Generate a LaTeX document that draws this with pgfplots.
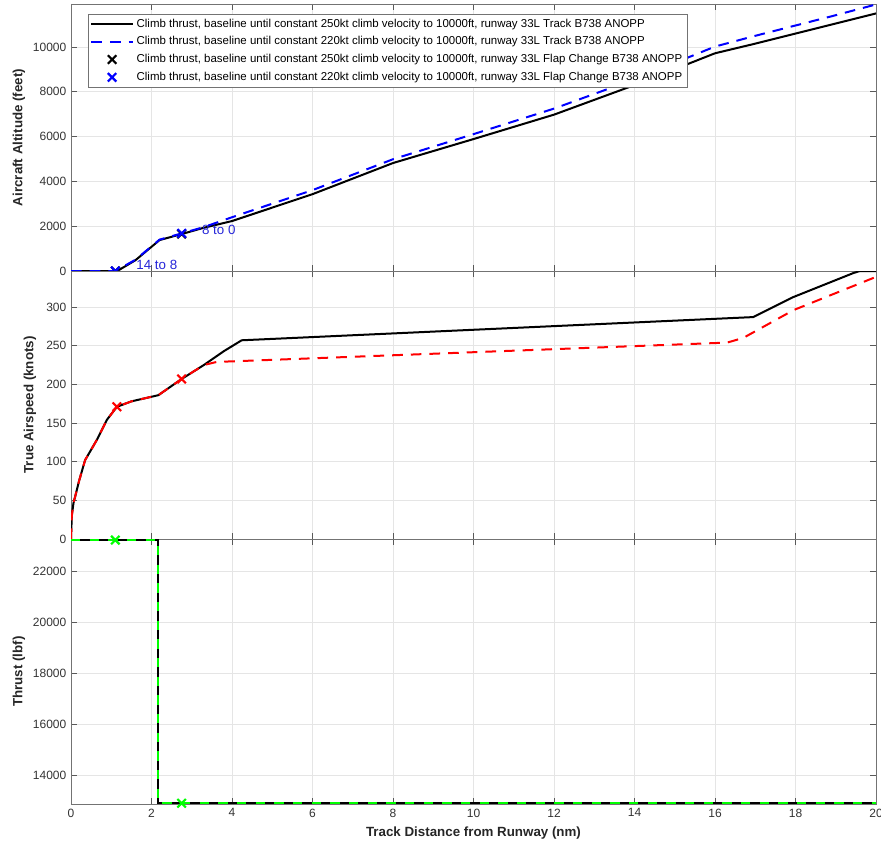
\documentclass[border=0pt]{standalone}
\usepackage{fontspec}
\setmainfont{Liberation Sans}
\usepackage{pgfplots}
\pgfplotsset{compat=1.18}
\definecolor{gridgray}{gray}{0.9}
\definecolor{txtblue}{rgb}{0.15,0.15,0.85}

\pgfplotsset{
  panel/.style={
    scale only axis, width=603.75pt,
    xmin=0, xmax=20, xtick={0,2,...,20},
    xtick pos=both, ytick pos=both,
    tick align=inside, major tick length=4.5pt,
    grid=major, grid style={gridgray, line width=0.5pt},
    axis line style={black!55, line width=0.7pt},
    tick style={black!65, line width=0.6pt},
    ticklabel style={font=\fontsize{9}{10}\selectfont, text=black!80},
    label style={font=\bfseries\fontsize{10}{12}\selectfont, text=black!85},
    /pgf/number format/assume math mode=true,
    /pgf/number format/1000 sep={},
    scaled ticks=false,
    axis background/.style={fill=white},
    every axis plot/.append style={line width=1.5pt},
    legend image code/.code={\draw[mark repeat=2,mark phase=2,#1]
      plot coordinates {(0cm,0cm) (0.55cm,0cm) (1.1cm,0cm)};},
  },
  xmk/.style={only marks, mark=x, mark size=4.5pt, mark options={line width=1.6pt}},
}

\begin{document}
\begin{tikzpicture}
\useasboundingbox (-53.25pt,-636.75pt) rectangle (607.5pt,3pt);

% altitude
\begin{axis}[panel, name=top, at={(0,0)}, anchor=north west,
    height=200.25pt, ymin=0, ymax=11920, ytick={0,2000,...,10000},
    xticklabels={},
    ylabel={Aircraft Altitude (feet)},
    ylabel style={at={(axis description cs:-0.0646,0.5)}, anchor=center},
    legend cell align=left,
    legend style={at={(axis description cs:0.021,0.963)}, anchor=north west,
      font=\fontsize{8.6}{10}\selectfont, draw=black!55, line width=0.5pt,
      fill=white, inner sep=1.5pt, row sep=1.6pt},
]
\addplot[black] coordinates {
  (0,0)(1.15,0)(1.6,480)(2.2,1380)(2.75,1650)(3.3,1930)(4,2230)(6,3430)
  (8,4820)(10,5890)(12,6980)(14,8300)(16,9720)(17,10150)(18,10600)
  (19,11050)(20,11500)
};
\addplot[blue, dash pattern=on 8pt off 6pt] coordinates {
  (0,0)(1.1,0)(1.6,500)(2.2,1400)(2.75,1680)(3.3,1960)(4,2400)(6,3610)
  (8,4990)(10,6110)(12,7250)(14,8560)(16,10020)(17,10500)(18,10960)
  (19,11420)(20,11900)
};
\addplot[black, xmk] coordinates {(1.1,0)(2.75,1650)};
\addplot[blue, xmk] coordinates {(1.1,0)(2.75,1680)};
\legend{{Climb thrust, baseline until constant 250kt climb velocity to 10000ft, runway 33L Track B738 ANOPP},
        {Climb thrust, baseline until constant 220kt climb velocity to 10000ft, runway 33L Track B738 ANOPP},
        {Climb thrust, baseline until constant 250kt climb velocity to 10000ft, runway 33L Flap Change B738 ANOPP},
        {Climb thrust, baseline until constant 220kt climb velocity to 10000ft, runway 33L Flap Change B738 ANOPP}}
\node[anchor=west, text=txtblue, font=\fontsize{10}{11}\selectfont, inner sep=0pt] at (axis cs:1.62,280) {14 to 8};
\node[anchor=west, text=txtblue, font=\fontsize{10}{11}\selectfont, inner sep=0pt] at (axis cs:3.25,1830) {8 to 0};
\end{axis}

% airspeed
\begin{axis}[panel, name=mid, at={(top.south west)}, anchor=north west,
    height=201pt, ymin=0, ymax=346.6, ytick={0,50,...,300},
    xticklabels={},
    ylabel={True Airspeed (knots)},
    ylabel style={at={(axis description cs:-0.051,0.5)}, anchor=center},
]
\addplot[black] coordinates {
  (0,0)(0.02,30)(0.06,46)(0.2,75)(0.35,102)(0.64,128)(0.89,154)(1.14,171)
  (1.5,178)(2.17,186)(2.75,207)(3.3,225)(3.8,243)(4.24,257)(16.95,287)
  (17.95,313)(19.44,344)(19.6,346.6)(20,346.6)
};
\addplot[red, dash pattern=on 8pt off 6pt] coordinates {
  (0,0)(0.02,30)(0.06,46)(0.2,75)(0.35,102)(0.64,128)(0.89,154)(1.14,171)
  (1.5,178)(2.17,186)(2.75,207)(3.3,225)(3.62,229)(16.3,254)(16.7,260)
  (17.95,296)(20,339)
};
\addplot[red, xmk] coordinates {(1.14,171)(2.75,207)};
\end{axis}

% thrust
\begin{axis}[panel, name=bot, at={(mid.south west)}, anchor=north west,
    height=198.75pt, ymin=12860, ymax=23280, ytick={14000,16000,...,22000},
    xlabel={Track Distance from Runway (nm)},
    ylabel={Thrust (lbf)},
    ylabel style={at={(axis description cs:-0.0646,0.5)}, anchor=center},
]
\addplot[black] coordinates {(0,23240)(2.17,23240)(2.17,12890)(20,12890)};
\addplot[green, dash pattern=on 7pt off 7pt] coordinates {(0,23240)(2.17,23240)(2.17,12890)(20,12890)};
\addplot[green, xmk] coordinates {(1.1,23240)(2.75,12890)};
\end{axis}
\end{tikzpicture}
\end{document}
